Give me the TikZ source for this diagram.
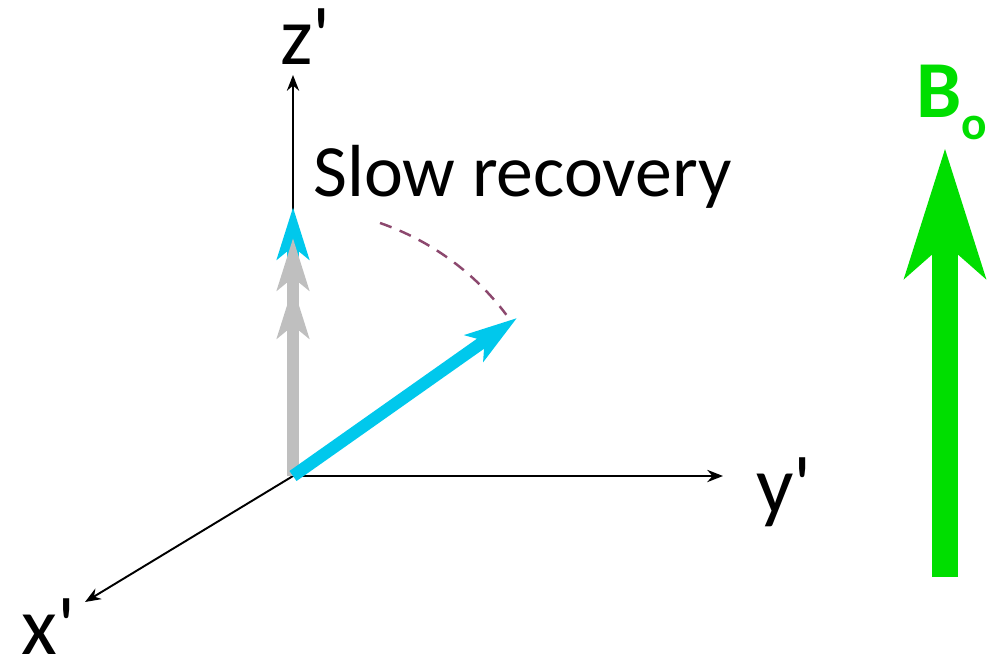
\documentclass[tikz,border=0pt]{standalone}
\usepackage{fontspec}
\setmainfont{Carlito}
\usetikzlibrary{arrows.meta}
\definecolor{vecblue}{RGB}{0,200,236}
\definecolor{vecgray}{RGB}{191,191,191}
\definecolor{fieldgreen}{RGB}{0,222,0}
\definecolor{arcpurple}{RGB}{140,72,110}
\newcommand{\prm}{\textquotesingle}
\begin{document}
\begin{tikzpicture}[x=0.02cm,y=-0.02cm,
  axis/.style={line width=1.1pt,-{Stealth[length=9pt,width=7pt,inset=3pt]}},
  axislabel/.style={anchor=base west,inner sep=0pt,font=\fontsize{47}{50}\selectfont},
  spin/.style={line width=7pt,-{Stealth[length=29.5pt,width=18pt,inset=7pt]}},
  field/.style={fieldgreen,line width=14.7pt,-{Stealth[length=73pt,width=45pt,inset=19pt]}},
  recover/.style={arcpurple,line width=1.4pt,dash pattern=on 7pt off 5pt}]
\useasboundingbox (0,0) rectangle (999,662);
% frame
\coordinate (O) at (293,476);
\coordinate (ztip) at (293,75);
\coordinate (ytip) at (723,476);
\coordinate (xtip) at (85,602);
\draw[axis] (O) -- (ztip);
\draw[axis] (O) -- (ytip);
\draw[axis] (O) -- (xtip);
\node[axislabel] (zlab) at (280,65) {z\prm};
\node[axislabel] (ylab) at (756,513) {y\prm};
\node[axislabel] (xlab) at (21,654) {x\prm};
% magnetisation
\coordinate (mz) at (293,207);
\coordinate (gz1) at (293,238);
\coordinate (gz2) at (293,286);
\coordinate (mtip) at (517,318);
\draw[spin,vecblue] (O) -- (mz);
\draw[spin,vecgray,line width=6.3pt] (O) -- (gz2);
\draw[spin,vecgray,line width=6.3pt] (O) -- (gz1);
\draw[spin,vecblue] (O) -- (mtip);
\coordinate (arcstart) at (380,223);
\draw[recover] (arcstart) arc[start angle=-71,end angle=-37,radius=267];
\node[anchor=base west,inner sep=0pt,font=\fontsize{42}{46}\selectfont] (slow) at (313,196) {Slow recovery};
% static field
\coordinate (bbase) at (945,577);
\coordinate (btip) at (945,148);
\draw[field] (bbase) -- (btip);
\node[anchor=base west,inner sep=0pt,text=fieldgreen,font=\bfseries\fontsize{46}{48}\selectfont] (blab) at (916,118) {B\raisebox{-12.5pt}{\fontsize{27}{30}\selectfont o}};
\end{tikzpicture}
\end{document}
